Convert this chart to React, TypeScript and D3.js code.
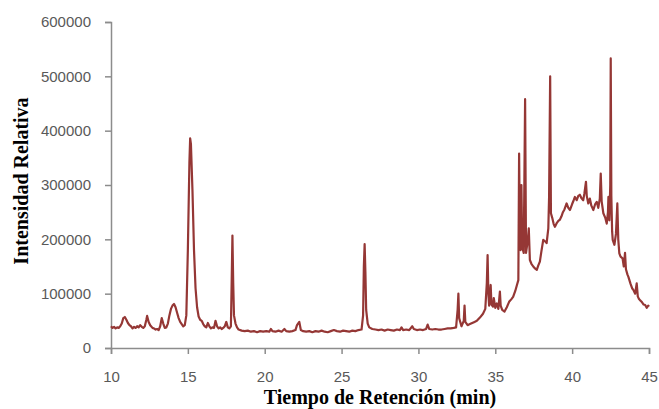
import React, { useEffect, useRef } from 'react';
import * as d3 from 'd3';

// retention time (min) and relative intensity
const retentionTimes = [
  10.0, 10.1, 10.2, 10.3, 10.4, 10.5, 10.6, 10.7, 10.8, 10.9, 11.0, 11.1, 11.2, 11.3, 11.4, 11.5,
  11.6, 11.7, 11.8, 11.9, 12.0, 12.1, 12.2, 12.3, 12.35, 12.45, 12.55, 12.7, 12.8, 12.9, 13.0, 13.1,
  13.2, 13.3, 13.4, 13.5, 13.6, 13.7, 13.8, 13.9, 14.0, 14.1, 14.2, 14.3, 14.4, 14.5, 14.6, 14.7,
  14.8, 14.9, 15.0, 15.1, 15.15, 15.2, 15.3, 15.4, 15.5, 15.6, 15.7, 15.8, 15.9, 16.0, 16.1, 16.2,
  16.3, 16.4, 16.5, 16.6, 16.7, 16.8, 16.9, 17.0, 17.1, 17.2, 17.3, 17.4, 17.5, 17.6, 17.7, 17.8,
  17.85, 17.9, 17.95, 18.0, 18.1, 18.2, 18.3, 18.5, 18.7, 18.9, 19.1, 19.3, 19.5, 19.7, 19.9, 20.1,
  20.3, 20.4, 20.5, 20.7, 20.9, 21.1, 21.28, 21.4, 21.6, 21.8, 22.0, 22.1, 22.25, 22.35, 22.5, 22.7,
  22.9, 23.1, 23.3, 23.5, 23.7, 23.9, 24.1, 24.3, 24.5, 24.7, 24.9, 25.1, 25.3, 25.5, 25.7, 25.9,
  26.1, 26.3, 26.4, 26.45, 26.5, 26.55, 26.6, 26.7, 26.8, 27.0, 27.2, 27.4, 27.6, 27.8, 28.0, 28.2,
  28.4, 28.6, 28.8, 28.9, 29.0, 29.2, 29.4, 29.6, 29.7, 29.9, 30.1, 30.3, 30.5, 30.6, 30.7, 30.9,
  31.1, 31.3, 31.5, 31.7, 31.9, 32.1, 32.3, 32.45, 32.55, 32.6, 32.65, 32.8, 32.95, 33.0, 33.05, 33.2,
  33.35, 33.5, 33.65, 33.8, 34.0, 34.2, 34.35, 34.45, 34.5, 34.55, 34.6, 34.7, 34.75, 34.85, 34.9, 35.0,
  35.1, 35.2, 35.3, 35.35, 35.45, 35.6, 35.75, 35.9, 36.05, 36.16, 36.3, 36.4, 36.5, 36.55, 36.6, 36.65,
  36.7, 36.75, 36.85, 36.94, 37.0, 37.1, 37.18, 37.25, 37.35, 37.47, 37.6, 37.7, 37.8, 37.9, 38.0, 38.12,
  38.25, 38.34, 38.45, 38.5, 38.57, 38.62, 38.7, 38.8, 38.88, 39.0, 39.1, 39.2, 39.3, 39.4, 39.5, 39.64,
  39.75, 39.86, 40.0, 40.1, 40.18, 40.3, 40.4, 40.5, 40.6, 40.72, 40.8, 40.9, 40.95, 41.05, 41.15, 41.25,
  41.38, 41.5, 41.6, 41.7, 41.8, 41.86, 41.92, 42.03, 42.15, 42.25, 42.33, 42.36, 42.42, 42.48, 42.51, 42.55,
  42.6, 42.64, 42.75, 42.85, 42.94, 43.0, 43.07, 43.15, 43.28, 43.36, 43.44, 43.5, 43.6, 43.66, 43.8, 43.9,
  43.98, 44.1, 44.2, 44.27, 44.35, 44.42, 44.55, 44.65, 44.75, 44.85, 44.95, 45.0,
];

const intensities = [
  40000, 37000, 39000, 36000, 38000, 37000, 40000, 45000, 55000, 57000, 52000, 46000, 42000, 40000, 36000, 39000,
  37000, 40000, 38000, 42000, 39000, 37000, 40000, 52000, 59000, 48000, 42000, 37000, 36000, 34000, 35000, 33000,
  40000, 55000, 45000, 37000, 38000, 45000, 60000, 72000, 78000, 81000, 75000, 65000, 55000, 48000, 44000, 40000,
  42000, 60000, 180000, 340000, 386000, 375000, 290000, 180000, 110000, 75000, 58000, 52000, 50000, 44000, 40000, 38000,
  46000, 40000, 36000, 38000, 37000, 50000, 40000, 36000, 38000, 35000, 37000, 40000, 48000, 38000, 36000, 40000,
  120000, 207000, 120000, 60000, 45000, 38000, 34000, 32000, 31000, 32000, 30000, 31000, 29000, 31000, 30000, 31000,
  30000, 35000, 31000, 30000, 32000, 30000, 35000, 31000, 30000, 31000, 33000, 42000, 48000, 33000, 31000, 30000,
  31000, 29000, 31000, 30000, 32000, 30000, 29000, 31000, 33000, 31000, 30000, 32000, 31000, 30000, 32000, 31000,
  33000, 34000, 60000, 150000, 191000, 140000, 70000, 45000, 38000, 35000, 34000, 33000, 34000, 32000, 34000, 33000,
  32000, 34000, 33000, 38000, 33000, 34000, 33000, 40000, 35000, 33000, 34000, 33000, 35000, 43000, 35000, 34000,
  35000, 34000, 34000, 35000, 36000, 36000, 37000, 38000, 70000, 100000, 55000, 40000, 50000, 78000, 48000, 42000,
  44000, 46000, 48000, 50000, 56000, 63000, 72000, 120000, 171000, 100000, 78000, 116000, 80000, 76000, 92000, 74000,
  82000, 72000, 104000, 78000, 70000, 67000, 75000, 85000, 90000, 94000, 105000, 115000, 125000, 358000, 200000, 180000,
  300000, 186000, 175000, 458000, 175000, 195000, 220000, 162000, 155000, 150000, 146000, 144000, 152000, 159000, 178000, 199000,
  196000, 193000, 220000, 278000, 500000, 248000, 240000, 228000, 223000, 230000, 234000, 236000, 242000, 250000, 255000, 266000,
  258000, 254000, 265000, 272000, 278000, 272000, 280000, 282000, 276000, 272000, 285000, 306000, 280000, 266000, 275000, 262000,
  254000, 265000, 269000, 258000, 275000, 321000, 270000, 248000, 240000, 229000, 250000, 278000, 235000, 300000, 533000, 280000,
  215000, 199000, 190000, 210000, 266000, 200000, 174000, 168000, 165000, 150000, 175000, 145000, 135000, 131000, 118000, 110000,
  107000, 100000, 119000, 95000, 90000, 88000, 84000, 80000, 79000, 74000, 78000, 76000,
];

const yTicks = [0, 100000, 200000, 300000, 400000, 500000, 600000];
const xTicks = [10, 15, 20, 25, 30, 35, 40, 45];

const Chromatogram: React.FC = () => {
  const svgRef = useRef<SVGSVGElement>(null);

  useEffect(() => {
    if (!svgRef.current) return;

    const svg = d3.select(svgRef.current);
    svg.selectAll("*").remove();

    const width = 659;
    const height = 409;
    const margin = { top: 22, right: 10, bottom: 61, left: 111 };

    const x = d3.scaleLinear()
      .domain([10, 45])
      .range([margin.left, width - margin.right]);

    const y = d3.scaleLinear()
      .domain([0, 600000])
      .range([height - margin.bottom, margin.top]);

    const axisColor = "#8c8c8c";
    const labelColor = "#595959";

    // Y axis
    svg.append("g")
      .attr("transform", `translate(${margin.left},0)`)
      .call(d3.axisLeft(y).tickValues(yTicks).tickSize(6).tickPadding(14).tickFormat(d => String(d)))
      .call(g => g.selectAll("line, path").attr("stroke", axisColor).attr("stroke-width", 1.5))
      .call(g => g.selectAll("text")
        .attr("fill", labelColor)
        .attr("font-family", "Liberation Sans, Arial, sans-serif")
        .attr("font-size", 15));

    // X axis
    svg.append("g")
      .attr("transform", `translate(0,${height - margin.bottom})`)
      .call(d3.axisBottom(x).tickValues(xTicks).tickSize(6).tickPadding(17))
      .call(g => g.selectAll("line, path").attr("stroke", axisColor).attr("stroke-width", 1.5))
      .call(g => g.selectAll("text")
        .attr("fill", labelColor)
        .attr("font-family", "Liberation Sans, Arial, sans-serif")
        .attr("font-size", 15));

    // Signal
    const points: [number, number][] = retentionTimes.map((t, i) => [t, intensities[i]]);
    const line = d3.line<[number, number]>()
      .x(d => x(d[0]))
      .y(d => y(d[1]));

    svg.append("path")
      .datum(points)
      .attr("fill", "none")
      .attr("stroke", "#953735")
      .attr("stroke-width", 2.2)
      .attr("stroke-linejoin", "round")
      .attr("d", line);

    // Axis titles
    svg.append("text")
      .attr("x", 380)
      .attr("y", 404)
      .attr("text-anchor", "middle")
      .attr("font-family", "Liberation Serif, Times New Roman, serif")
      .attr("font-size", 20)
      .attr("font-weight", "bold")
      .attr("fill", "#000")
      .text("Tiempo de Retención (min)");

    svg.append("text")
      .attr("transform", "translate(28,181) rotate(-90)")
      .attr("text-anchor", "middle")
      .attr("font-family", "Liberation Serif, Times New Roman, serif")
      .attr("font-size", 20)
      .attr("font-weight", "bold")
      .attr("fill", "#000")
      .text("Intensidad Relativa");
  }, []);

  return (
    <svg
      ref={svgRef}
      width={659}
      height={409}
      style={{ position: 'absolute', left: 0, top: 0, background: '#fff' }}
    />
  );
};

export default Chromatogram;
